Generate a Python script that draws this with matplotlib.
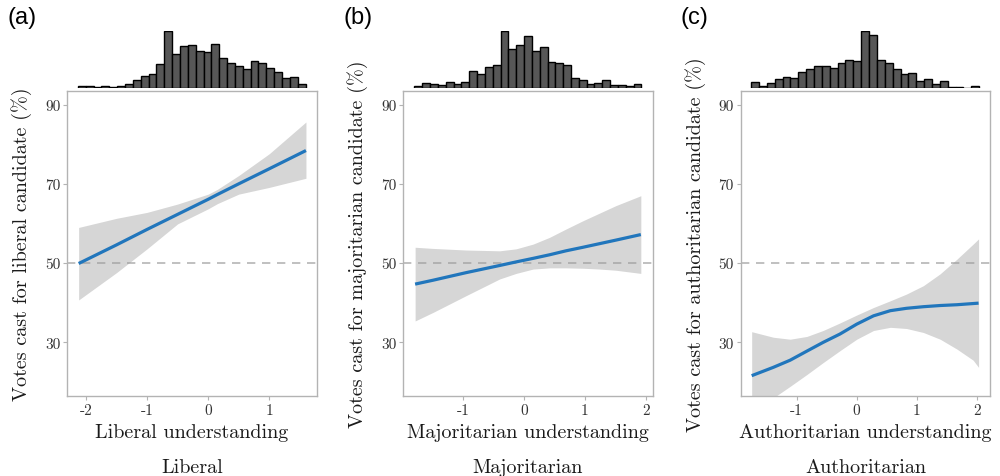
import numpy as np
import matplotlib
matplotlib.use('Agg')
import matplotlib.pyplot as plt

plt.rcParams['font.family'] = ['cmr10', 'DejaVu Serif']
plt.rcParams['axes.unicode_minus'] = False
plt.rcParams['mathtext.fontset'] = 'cm'

# Panel (a) - liberal
lib_x = [-2.12, -1.5, -1.0, -0.5, 0.0, 0.15, 0.5, 1.0, 1.6]
lib_fit = [49.9, 54.6, 58.5, 62.3, 66.1, 67.3, 70.0, 73.8, 78.4]
lib_lo = [40.7, 47.6, 53.6, 59.9, 63.7, 65.0, 67.4, 69.1, 71.4]
lib_hi = [59.0, 61.3, 62.8, 64.9, 67.4, 68.6, 72.1, 77.6, 85.6]
lib_counts = [5, 5, 3, 5, 4, 7, 13, 23, 37, 43, 70, 169, 101, 126, 127,
              111, 106, 131, 89, 73, 66, 57, 80, 74, 58, 48, 31, 33, 11]
lib_range = (-2.133, 1.594)

# Panel (b) - majoritarian
maj_x = [-1.79, -1.49, -0.95, -0.40, -0.13, 0.15, 0.42, 0.69, 0.97, 1.24, 1.51, 1.92]
maj_fit = [44.7, 45.7, 47.6, 49.4, 50.3, 51.2, 52.1, 53.1, 54.0, 54.9, 55.8, 57.2]
maj_lo = [35.4, 37.6, 41.8, 46.0, 47.4, 48.5, 48.8, 48.8, 48.7, 48.5, 48.2, 47.4]
maj_hi = [54.0, 53.7, 53.3, 53.1, 53.6, 54.8, 56.5, 58.6, 60.7, 62.6, 64.5, 67.0]
maj_counts = [5, 16, 11, 8, 17, 11, 19, 50, 42, 63, 67, 169, 117, 127, 153,
              111, 122, 77, 73, 67, 30, 25, 13, 16, 25, 9, 8, 5, 11]
maj_range = (-1.80, 1.93)

# Panel (c) - authoritarian
aut_x = [-1.75, -1.39, -1.11, -0.83, -0.56, -0.28, 0.0, 0.28, 0.56, 0.83,
         1.11, 1.39, 1.67, 1.94, 2.03]
aut_fit = [21.6, 23.7, 25.5, 27.8, 30.0, 32.1, 34.6, 36.7, 38.0, 38.6,
           39.0, 39.3, 39.5, 39.8, 39.9]
aut_lo = [12.2, 16.0, 18.9, 21.9, 24.9, 27.9, 30.8, 33.0, 33.8, 33.5,
          32.5, 30.8, 28.3, 25.5, 23.7]
aut_hi = [32.7, 31.3, 30.8, 31.5, 33.0, 34.9, 36.9, 38.8, 40.5, 42.2,
          44.3, 47.3, 51.0, 54.8, 56.1]
aut_counts = [18, 6, 16, 27, 34, 30, 48, 55, 64, 64, 58, 75, 82, 80, 169,
              157, 84, 74, 56, 43, 44, 20, 26, 13, 20, 4, 4, 1, 5]
aut_range = (-1.76, 2.04)

tick_a = [-2, -1, 0, 1]
tick_bc = [-1, 0, 1, 2]
y_ticks = [30, 50, 70, 90]

panels = [
    dict(tag='(a)', x=lib_x, fit=lib_fit, lo=lib_lo, hi=lib_hi, counts=lib_counts,
         rng=lib_range, xticks=tick_a, xlim=(-2.306, 1.776), left=0.0673,
         ylabel='Votes cast for liberal candidate (%)',
         xlabel='Liberal understanding', title='Liberal'),
    dict(tag='(b)', x=maj_x, fit=maj_fit, lo=maj_lo, hi=maj_hi, counts=maj_counts,
         rng=maj_range, xticks=tick_bc, xlim=(-1.984, 2.115), left=0.4033,
         ylabel='Votes cast for majoritarian candidate (%)',
         xlabel='Majoritarian understanding', title='Majoritarian'),
    dict(tag='(c)', x=aut_x, fit=aut_fit, lo=aut_lo, hi=aut_hi, counts=aut_counts,
         rng=aut_range, xticks=tick_bc, xlim=(-1.933, 2.222), left=0.7407,
         ylabel='Votes cast for authoritarian candidate (%)',
         xlabel='Authoritarian understanding', title='Authoritarian'),
]

fig = plt.figure(figsize=(10, 4.77), dpi=100)
spine_col = '#b3b3b3'

for p in panels:
    ax = fig.add_axes([p['left'], 0.1671, 0.2494, 0.6407])
    ax.axhline(50, color='#b5b5b5', lw=1.2, ls=(0, (5, 4)), zorder=1)
    ax.fill_between(p['x'], p['lo'], p['hi'], color='#999999', alpha=0.4,
                    lw=0, zorder=2)
    ax.plot(p['x'], p['fit'], color='#2176bc', lw=2.3, zorder=3,
            solid_capstyle='butt')
    ax.set_xlim(*p['xlim'])
    ax.set_ylim(16.4, 93.5)
    ax.set_xticks(p['xticks'])
    ax.set_xticklabels([str(t) for t in p['xticks']])
    ax.set_yticks(y_ticks)
    ax.set_yticklabels([str(t) for t in y_ticks])
    for s in ax.spines.values():
        s.set_color(spine_col)
        s.set_linewidth(1.0)
    ax.tick_params(colors=spine_col, labelcolor='#333333', labelsize=11,
                   length=3, width=0.8, pad=2)
    ax.set_xlabel(p['xlabel'], fontsize=14.5, color='#1a1a1a', labelpad=4)
    ax.set_ylabel(p['ylabel'], fontsize=14.5, color='#1a1a1a', labelpad=9)
    ax.text(0.5, -0.23, p['title'], transform=ax.transAxes, ha='center',
            va='center', fontsize=14.5, color='#1a1a1a')

    # marginal histogram
    hx = fig.add_axes([p['left'], 0.8134, 0.2494, 0.1195])
    edges = np.linspace(p['rng'][0], p['rng'][1], len(p['counts']) + 1)
    hx.bar(edges[:-1], p['counts'], width=np.diff(edges), align='edge',
           color='#575757', edgecolor='black', lw=1.0)
    hx.set_xlim(*p['xlim'])
    hx.set_ylim(0, max(p['counts']))
    hx.axis('off')

    fig.text(p['left'] - 0.060, 0.962, p['tag'], ha='left', va='center',
             fontsize=17, family='Liberation Sans')

fig.savefig('out.png', dpi=100)
